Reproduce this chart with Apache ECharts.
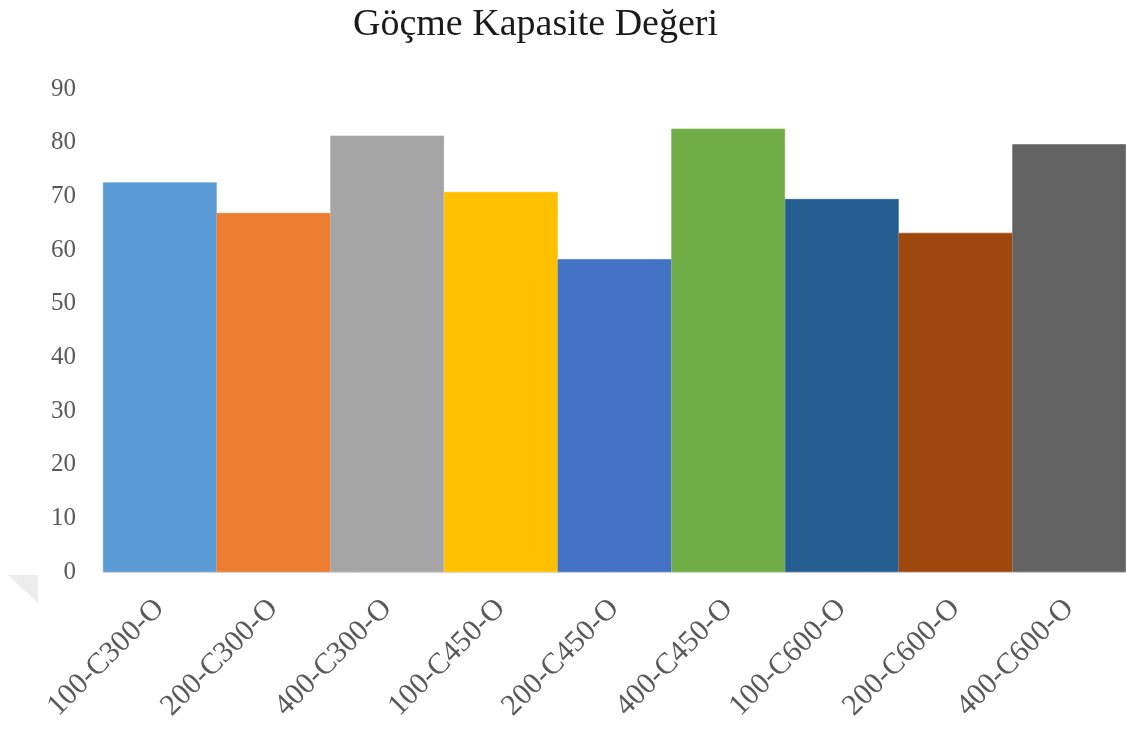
<!DOCTYPE html>
<html>
<head>
<meta charset="utf-8">
<script src="https://cdn.jsdelivr.net/npm/echarts@6/dist/echarts.min.js"></script>
<style>
  html, body { margin: 0; padding: 0; background: #ffffff; }
  #chart { width: 1126px; height: 733px; }
</style>
</head>
<body>
<div id="chart"></div>
<script>
// Collapse capacity per specimen
const categories = ['100-C300-O', '200-C300-O', '400-C300-O', '100-C450-O', '200-C450-O', '400-C450-O', '100-C600-O', '200-C600-O', '400-C600-O'];
const capacity = [72.6, 66.9, 81.3, 70.8, 58.3, 82.6, 69.5, 63.2, 79.7];
const barColors = ['#5B9BD5', '#ED7D31', '#A5A5A5', '#FFC000', '#4472C4', '#70AD47', '#255E91', '#9E480E', '#636363'];
const titleText = 'Göçme Kapasite Değeri';

const serif = '"Liberation Serif", "DejaVu Serif", serif';
const chart = echarts.init(document.getElementById('chart'));

chart.setOption({
  backgroundColor: '#ffffff',
  animation: false,
  title: {
    text: titleText,
    left: 348,
    top: 1,
    textStyle: { fontFamily: serif, fontSize: 38, fontWeight: 'normal', color: '#1a1a1a' }
  },
  grid: { left: 103, right: 0, top: 89, bottom: 161, containLabel: false },
  xAxis: {
    type: 'category',
    data: categories,
    axisLine: { show: true, lineStyle: { color: '#d9d9d9', width: 1 } },
    axisTick: { show: false },
    axisLabel: {
      rotate: 45,
      interval: 0,
      margin: 32,
      fontFamily: serif,
      fontSize: 30,
      color: '#595959'
    }
  },
  yAxis: {
    type: 'value',
    min: 0,
    max: 90,
    interval: 10,
    axisLine: { show: false },
    axisTick: { show: false },
    splitLine: { show: false },
    axisLabel: { margin: 27, fontFamily: serif, fontSize: 25, color: '#595959' }
  },
  series: [{
    type: 'bar',
    barCategoryGap: '0%',
    data: capacity.map((v, i) => ({
      value: v,
      itemStyle: { color: barColors[i], borderColor: barColors[i], borderWidth: 0.6 }
    }))
  }],
  graphic: [{
    type: 'polygon',
    shape: { points: [[8, 575], [38, 575], [38, 603]] },
    style: { fill: '#ededed' },
    z: -1
  }]
});
</script>
</body>
</html>
